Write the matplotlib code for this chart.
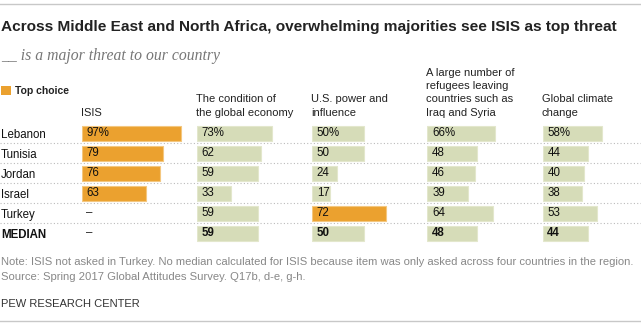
import matplotlib
matplotlib.use("Agg")
import matplotlib.pyplot as plt
from matplotlib.patches import Rectangle

# ── DATA ──────────────────────────────────────────────────────────────────────

countries = ["Lebanon", "Tunisia", "Jordan", "Israel", "Turkey", "MEDIAN"]
headers = [
    ["ISIS"],
    ["The condition of", "the global economy"],
    ["U.S. power and", "influence"],
    ["A large number of", "refugees leaving", "countries such as", "Iraq and Syria"],
    ["Global climate", "change"],
]
isis = [97, 79, 76, 63, None, None]
economy = [73, 62, 59, 33, 59, 59]
us_power = [50, 50, 24, 17, 72, 50]
refugees = [66, 48, 46, 39, 64, 48]
climate = [58, 44, 40, 38, 53, 44]
columns = [isis, economy, us_power, refugees, climate]

title = "Across Middle East and North Africa, overwhelming majorities see ISIS as top threat"
subtitle = "__ is a major threat to our country"
note = ("Note: ISIS not asked in Turkey. No median calculated for ISIS because item "
        "was only asked across four countries in the region.")
source = "Source: Spring 2017 Global Attitudes Survey. Q17b, d-e, g-h."

# ── STYLE ─────────────────────────────────────────────────────────────────────

W, H = 641, 327
ORANGE = "#EBA12F"
GREEN = "#D6DCB8"
BODY = ["Liberation Sans", "DejaVu Sans"]

col_left = [81.7 + 115.25 * i for i in range(5)]   # px
px_per_pct = 1.027
row_top, row_h = 123, 20

fig = plt.figure(figsize=(W / 100, H / 100), dpi=100)
fig.patch.set_facecolor("white")

# background axes in pixel coordinates for text and rules
bg = fig.add_axes([0, 0, 1, 1])
bg.set_xlim(0, W)
bg.set_ylim(H, 0)
bg.axis("off")

for y in (4, 321):
    bg.plot([0, W], [y, y], color="#C8C8C8", lw=1.0)

bg.text(1, 31.5, title, family=BODY, fontweight="bold", fontsize=11.1,
        color="#222222", va="baseline")
bg.text(1, 60, subtitle, family=["Liberation Serif", "DejaVu Serif"], style="italic",
        fontsize=11.3, color="#777777", va="baseline")

bg.add_patch(Rectangle((1, 86), 9.5, 8.5, color=ORANGE, lw=0))
bg.text(15, 94, "Top choice", family=BODY, fontweight="bold", fontsize=7.5,
        color="#222222", va="baseline")

for left, lines in zip(col_left, headers):
    n = len(lines)
    for k, line in enumerate(lines):
        bg.text(left - 1, 115.5 - 13.3 * (n - 1 - k), line, family=BODY, fontsize=8,
                color="#222222", va="baseline")

for i, name in enumerate(countries):
    yc = row_top + row_h * i + row_h / 2
    bg.text(1, yc + 5.3, name, family=BODY, fontsize=8.3, color="#111111",
            fontweight="bold" if name == "MEDIAN" else "normal", va="baseline")
    if i < len(countries) - 1:
        bg.plot([0, W], [row_top + row_h * (i + 1)] * 2, color="#BBBBBB",
                lw=0.8, ls=(0, (1, 2)))

bg.text(1, 265, note, family=BODY, fontsize=8.1, color="#888888", va="baseline")
bg.text(1, 280, source, family=BODY, fontsize=8.1, color="#888888", va="baseline")
bg.text(1, 307, "PEW RESEARCH CENTER", family=BODY, fontsize=8, color="#333333",
        va="baseline")

# ── BARS ──────────────────────────────────────────────────────────────────────

# top choice = highest value in each country row (median excluded)
top_col = []
for i in range(len(countries) - 1):
    vals = [c[i] if c[i] is not None else -1 for c in columns]
    top_col.append(vals.index(max(vals)))

rows = list(range(len(countries)))
for j, (left, values) in enumerate(zip(col_left, columns)):
    ax = fig.add_axes([left / W, 1 - (row_top + row_h * len(rows)) / H,
                       100 * px_per_pct / W, row_h * len(rows) / H])
    ax.set_xlim(0, 100)
    ax.set_ylim(len(rows) - 0.5, -0.5)
    ax.axis("off")
    for i, v in enumerate(values):
        bold = countries[i] == "MEDIAN"
        if v is None:
            ax.text(4.5, i, "–", family=BODY, fontsize=8.3, color="#222222",
                    va="center", ha="left")
            continue
        is_top = i < len(top_col) and top_col[i] == j
        ax.barh(i, v, height=0.75, color=ORANGE if is_top else GREEN,
                edgecolor="#F4C77F" if is_top else "#E3E7CC", linewidth=0.8)
        label = f"{v}%" if i == 0 else f"{v}"
        ax.text(4.5, i + 0.02, label, family=BODY, fontsize=8.3, color="#111111",
                fontweight="bold" if bold else "normal", va="center", ha="left")

fig.savefig("out.png", dpi=100, facecolor="white")
